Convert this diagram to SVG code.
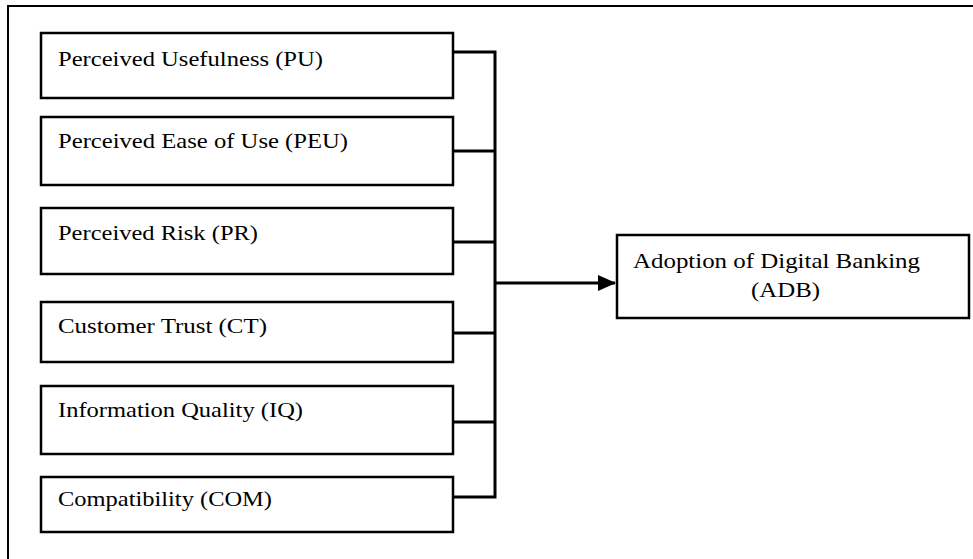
<svg xmlns="http://www.w3.org/2000/svg" width="973" height="559" viewBox="0 0 973 559">
<defs>
<style>
.box{fill:#fff;stroke:#000;stroke-width:2.5}
.lbl{font-family:"Liberation Serif","Times New Roman",serif;font-size:21px;fill:#000}
.con{stroke:#000;stroke-width:3;fill:none}
</style>
<marker id="ah" markerWidth="18" markerHeight="16" refX="17" refY="8" orient="auto" markerUnits="userSpaceOnUse">
<path d="M0,0 L18,8 L0,16 Z" fill="#000"/>
</marker>
</defs>
<rect width="973" height="559" fill="#fff"/>
<g id="frame">
<path d="M8,559 V6 H973" fill="none" stroke="#000" stroke-width="2"/>
</g>
<g id="pu"><rect class="box" x="41" y="33" width="412" height="65"/><text class="lbl" x="58" y="66" textLength="265" lengthAdjust="spacingAndGlyphs">Perceived Usefulness (PU)</text></g>
<g id="peu"><rect class="box" x="41" y="117" width="412" height="68"/><text class="lbl" x="58" y="148" textLength="290" lengthAdjust="spacingAndGlyphs">Perceived Ease of Use (PEU)</text></g>
<g id="pr"><rect class="box" x="41" y="208" width="412" height="66"/><text class="lbl" x="58" y="240" textLength="200" lengthAdjust="spacingAndGlyphs">Perceived Risk (PR)</text></g>
<g id="ct"><rect class="box" x="41" y="302" width="412" height="60"/><text class="lbl" x="58" y="333" textLength="209" lengthAdjust="spacingAndGlyphs">Customer Trust (CT)</text></g>
<g id="iq"><rect class="box" x="41" y="386" width="412" height="68"/><text class="lbl" x="58" y="417" textLength="245" lengthAdjust="spacingAndGlyphs">Information Quality (IQ)</text></g>
<g id="com"><rect class="box" x="41" y="477" width="412" height="55"/><text class="lbl" x="58" y="506" textLength="214" lengthAdjust="spacingAndGlyphs">Compatibility (COM)</text></g>
<g id="adb"><rect class="box" x="617" y="235" width="352" height="83"/><text class="lbl" x="633" y="268" textLength="287" lengthAdjust="spacingAndGlyphs">Adoption of Digital Banking</text><text class="lbl" x="751" y="297" textLength="69" lengthAdjust="spacingAndGlyphs">(ADB)</text></g>
<g id="connectors">
<path class="con" d="M453,52 H495 M453,151 H495 M453,242 H495 M453,333 H495 M453,422 H495 M453,497 H495 M495,50.5 V498.5"/>
<path class="con" d="M495,283 H615" marker-end="url(#ah)"/>
</g>
</svg>
